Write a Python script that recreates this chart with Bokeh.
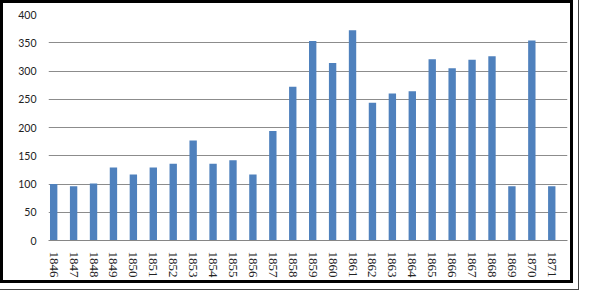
from bokeh.plotting import figure
from bokeh.models import Range1d, FixedTicker, ColumnDataSource
from bokeh.embed import file_html
from bokeh.resources import INLINE

years = ["1846", "1847", "1848", "1849", "1850", "1851", "1852", "1853", "1854",
         "1855", "1856", "1857", "1858", "1859", "1860", "1861", "1862", "1863",
         "1864", "1865", "1866", "1867", "1868", "1869", "1870", "1871"]
values = [100, 96, 101, 129, 117, 129, 136, 177, 136,
          142, 117, 194, 272, 353, 314, 372, 244, 260,
          264, 321, 305, 320, 326, 96, 354, 96]
y_ticks = [0, 50, 100, 150, 200, 250, 300, 350, 400]

pos = list(range(len(years)))
src = ColumnDataSource(dict(x=pos, top=values, year=years))

p = figure(width=573, height=283, output_backend="svg", toolbar_location=None,
           x_range=Range1d(-0.26, 25.79), y_range=Range1d(0, 400),
           min_border_left=45, min_border_right=9, min_border_top=11,
           min_border_bottom=46)
p.styles = {"border": "3px solid black",
            "box-shadow": "-1px 0px 0px 6px white, -1px 0px 0px 7px #444444"}
p.outline_line_color = None
p.background_fill_color = "white"
p.border_fill_alpha = 0

p.vbar(x="x", top="top", width=0.37, bottom=0, source=src,
       fill_color="#4F81BD", line_color=None)

p.yaxis.ticker = FixedTicker(ticks=y_ticks)
p.yaxis.axis_line_color = None
p.yaxis.major_tick_line_color = None
p.yaxis.minor_tick_line_color = None
p.yaxis.major_tick_out = 0
p.yaxis.major_tick_in = 0
p.yaxis.major_label_standoff = 12
p.yaxis.major_label_text_font = "Lato"
p.yaxis.major_label_text_font_size = "10.5px"
p.yaxis.major_label_text_color = "#222222"

p.xaxis.ticker = FixedTicker(ticks=pos)
p.xaxis.major_label_overrides = {i: y for i, y in zip(pos, years)}
p.xaxis.axis_line_color = "#868686"
p.xaxis.major_tick_line_color = None
p.xaxis.minor_tick_line_color = None
p.xaxis.major_tick_out = 0
p.xaxis.major_tick_in = 0
p.xaxis.major_label_orientation = "vertical"
p.xaxis.major_label_standoff = 11
p.xaxis.major_label_text_font = "Liberation Serif"
p.xaxis.major_label_text_font_size = "13px"
p.xaxis.major_label_text_color = "#222222"

p.xgrid.grid_line_color = None
p.ygrid.ticker = FixedTicker(ticks=y_ticks)
p.ygrid.grid_line_color = "#8c8c8c"
p.ygrid.grid_line_width = 1

open("out.html", "w").write(file_html(p, INLINE))
